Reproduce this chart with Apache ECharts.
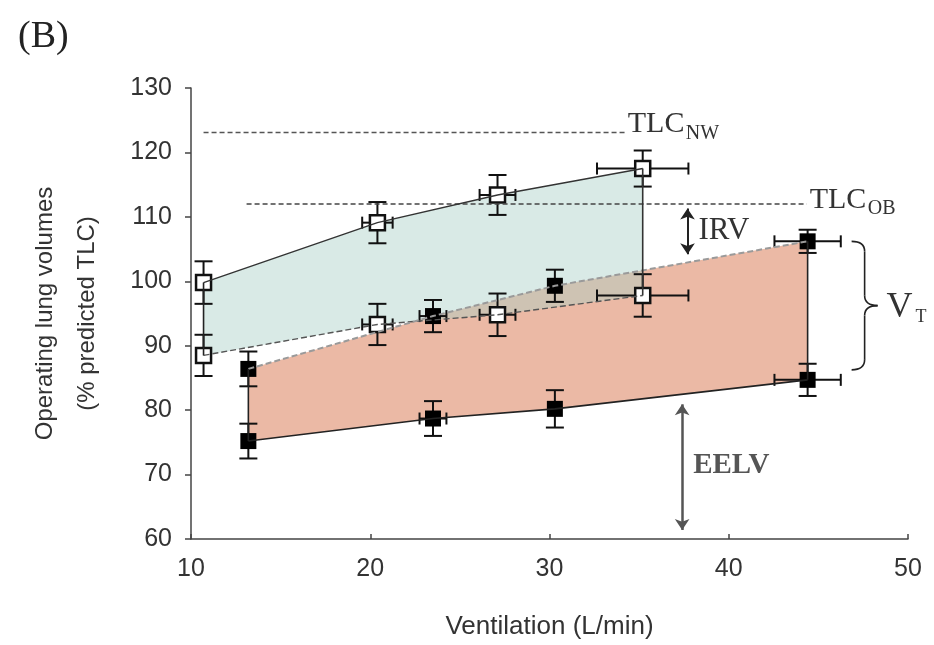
<!DOCTYPE html>
<html>
<head>
<meta charset="utf-8">
<script src="https://cdn.jsdelivr.net/npm/echarts@6/dist/echarts.min.js"></script>
<style>html,body{margin:0;padding:0;background:#fff}#c{width:934px;height:645px}</style>
</head>
<body>
<div id="c"></div>
<script>
// ---- data ----
const nwX = [10.7, 20.4, 27.1, 35.2];
const nwXErr = [0, 0.85, 1.0, 2.55];
const nwTop = [99.8, 109.1, 113.4, 117.5];
const nwTopErr = [3.3, 3.2, 3.1, 2.8];
const nwBottom = [88.5, 93.3, 94.8, 97.8];
const nwBottomErr = [3.2, 3.2, 3.3, 3.3];

const obX = [13.2, 23.5, 30.3, 44.4];
const obXErr = [0, 0.75, 0, 1.85];
const obTop = [86.4, 94.6, 99.3, 106.2];
const obTopErr = [2.7, 2.5, 2.5, 1.8];
const obBottom = [75.2, 78.7, 80.2, 84.7];
const obBottomErr = [2.7, 2.7, 2.9, 2.5];

const tlcNames = ['NW', 'OB'];
const tlcLevel = [123.1, 112.0];
const tlcFrom = [10.7, 13.1];
const tlcTo = [34.2, 44.35];

const irvArrow = [37.7, 111.3, 104.2];   // x, yFrom, yTo
const eelvArrow = [37.4, 80.9, 61.4];

const xAxisRange = [10, 50, 10];
const yAxisRange = [60, 130, 10];

// ---- helpers ----
const pairs = (xs, ys) => xs.map((x, i) => [x, ys[i]]);
const errRows = (xs, ys, xe, ye) => xs.map((x, i) => [x, ys[i], xe[i], ye[i]]);
const poly = (xs, top, bot) => pairs(xs, top).concat(pairs(xs, bot).reverse());

function polygonSeries(points, fill) {
  return {
    type: 'custom', data: points, silent: true, clip: true,
    renderItem: function (params, api) {
      if (params.dataIndex !== 0) return { type: 'group', children: [] };
      return { type: 'polygon', shape: { points: points.map(p => api.coord(p)) }, style: { fill: fill } };
    }
  };
}
function lineSeries(data, color, width, type) {
  return { type: 'line', data: data, symbol: 'none', silent: true,
    lineStyle: { color: color, width: width, type: type || 'solid' } };
}
function errorSeries(rows) {
  return {
    type: 'custom', data: rows, silent: true,
    renderItem: function (params, api) {
      const x = api.value(0), y = api.value(1), xe = api.value(2), ye = api.value(3);
      const hi = api.coord([x, y + ye]), lo = api.coord([x, y - ye]);
      const st = { stroke: '#111', lineWidth: 2 };
      const cw = 9, ch = 6;
      const ch_ = [
        { type: 'line', shape: { x1: hi[0], y1: hi[1], x2: lo[0], y2: lo[1] }, style: st },
        { type: 'line', shape: { x1: hi[0] - cw, y1: hi[1], x2: hi[0] + cw, y2: hi[1] }, style: st },
        { type: 'line', shape: { x1: lo[0] - cw, y1: lo[1], x2: lo[0] + cw, y2: lo[1] }, style: st }
      ];
      if (xe > 0) {
        const l = api.coord([x - xe, y]), r = api.coord([x + xe, y]);
        ch_.push({ type: 'line', shape: { x1: l[0], y1: l[1], x2: r[0], y2: r[1] }, style: st });
        ch_.push({ type: 'line', shape: { x1: l[0], y1: l[1] - ch, x2: l[0], y2: l[1] + ch }, style: st });
        ch_.push({ type: 'line', shape: { x1: r[0], y1: r[1] - ch, x2: r[0], y2: r[1] + ch }, style: st });
      }
      return { type: 'group', children: ch_ };
    }
  };
}
function markerSeries(data, open) {
  return { type: 'scatter', data: data, symbol: 'rect', symbolSize: open ? 15 : 16, silent: true,
    itemStyle: open ? { color: '#fff', borderColor: '#111', borderWidth: 2.5, opacity: 1 } : { color: '#000', opacity: 1 } };
}

const chart = echarts.init(document.getElementById('c'), null, { renderer: 'canvas' });
const sans = 'Liberation Sans, Arial, sans-serif';
const serif = 'Liberation Serif, Times New Roman, serif';

const series = [
  polygonSeries(poly(obX, obTop, obBottom), '#ebb9a5'),
  polygonSeries(poly(nwX, nwTop, nwBottom), 'rgba(169,207,198,0.44)'),
  // TLC dashed reference lines + arrows
  Object.assign(lineSeries([[tlcFrom[0], tlcLevel[0]], [tlcTo[0], tlcLevel[0]]], '#555', 1.4, [5, 3]), {
    markLine: {
      silent: true, symbol: ['arrow', 'arrow'], symbolSize: [11, 11], label: { show: false },
      animation: false,
      data: [
        [{ coord: [irvArrow[0], irvArrow[1]], lineStyle: { color: '#222', width: 2, type: 'solid' } },
         { coord: [irvArrow[0], irvArrow[2]] }],
        [{ coord: [eelvArrow[0], eelvArrow[1]], lineStyle: { color: '#555', width: 2.5, type: 'solid' } },
         { coord: [eelvArrow[0], eelvArrow[2]] }]
      ]
    }
  }),
  lineSeries([[tlcFrom[1], tlcLevel[1]], [tlcTo[1], tlcLevel[1]]], '#444', 1.4, [5, 3]),
  // group lines
  lineSeries(pairs(nwX, nwTop), '#333', 1.4),
  lineSeries(pairs(nwX, nwBottom), '#555', 1.4, [6, 3]),
  lineSeries(pairs(obX, obTop), '#9a9a9a', 2, [6, 3]),
  lineSeries(pairs(obX, obBottom), '#222', 1.6),
  // vertical connectors at first/last points
  lineSeries([[nwX[0], nwBottom[0]], [nwX[0], nwTop[0]]], '#222', 1.6),
  lineSeries([[nwX[3], nwBottom[3]], [nwX[3], nwTop[3]]], '#333', 1.6),
  lineSeries([[obX[0], obBottom[0]], [obX[0], obTop[0]]], '#222', 1.6),
  lineSeries([[obX[3], obBottom[3]], [obX[3], obTop[3]]], '#222', 1.6),
  // error bars
  errorSeries(errRows(nwX, nwTop, nwXErr, nwTopErr)),
  errorSeries(errRows(nwX, nwBottom, nwXErr, nwBottomErr)),
  errorSeries(errRows(obX, obTop, obXErr, obTopErr)),
  errorSeries(errRows(obX, obBottom, obXErr, obBottomErr)),
  // markers
  markerSeries(pairs(obX, obTop), false),
  markerSeries(pairs(obX, obBottom), false),
  markerSeries(pairs(nwX, nwTop), true),
  markerSeries(pairs(nwX, nwBottom), true)
];

const option = {
  animation: false,
  backgroundColor: '#fff',
  title: { text: '(B)', left: 13, top: 13,
    textStyle: { fontFamily: serif, fontSize: 38, fontWeight: 'normal', color: '#222' } },
  grid: { left: 191, right: 26, top: 88, bottom: 101, containLabel: false },
  xAxis: {
    type: 'value', min: xAxisRange[0], max: xAxisRange[1], interval: xAxisRange[2],
    name: 'Ventilation (L/min)', nameLocation: 'middle', nameGap: 75,
    nameTextStyle: { fontFamily: sans, fontSize: 26, color: '#333' },
    axisLine: { show: true, lineStyle: { color: '#444', width: 1.5 } },
    axisTick: { show: true, inside: true, length: 5, lineStyle: { color: '#444', width: 1.5 } },
    axisLabel: { fontFamily: sans, fontSize: 25, color: '#333', margin: 18 },
    splitLine: { show: false }
  },
  yAxis: {
    type: 'value', min: yAxisRange[0], max: yAxisRange[1], interval: yAxisRange[2],
    name: 'Operating lung volumes\n(% predicted TLC)', nameLocation: 'middle', nameGap: 83,
    nameTextStyle: { fontFamily: sans, fontSize: 24, color: '#333', lineHeight: 42 },
    axisLine: { show: true, lineStyle: { color: '#444', width: 1.5 } },
    axisTick: { show: true, inside: false, length: 6, lineStyle: { color: '#444', width: 1.5 } },
    axisLabel: { fontFamily: sans, fontSize: 25, color: '#333', margin: 19 },
    splitLine: { show: false }
  },
  series: series
};
chart.setOption(option);

// ---- annotations anchored to data coordinates ----
const px = p => chart.convertToPixel({ gridIndex: 0 }, p);
const g = [];
function txt(x, y, s, size, opts) {
  g.push({ type: 'text', x: x, y: y, silent: true,
    style: Object.assign({ text: s, fontFamily: serif, fontSize: size, fill: '#333',
      textAlign: 'left', textVerticalAlign: 'middle' }, opts || {}) });
}
tlcNames.forEach((nm, i) => {
  const e = px([tlcTo[i], tlcLevel[i]]);
  const dy = i === 0 ? -8 : -4;
  txt(e[0] + 3, e[1] + dy, 'TLC', 30);
  txt(e[0] + 3 + 58, e[1] + dy + 9, nm, 20);
});
const ia = px([irvArrow[0], (irvArrow[1] + irvArrow[2]) / 2]);
txt(ia[0] + 11, ia[1], 'IRV', 31);
const ea = px([eelvArrow[0], (eelvArrow[1] + eelvArrow[2]) / 2]);
txt(ea[0] + 11, ea[1] - 2, 'EELV', 29, { fontWeight: 'bold', fill: '#555' });
// brace for tidal volume
const bt = px([obX[3], obTop[3]]), bb = px([obX[3], obBottom[3]]);
const x0 = bt[0] + 44, xm = x0 + 13, x1 = x0 + 26;
const y0 = bt[1], y1 = bb[1] - 10, ym = (y0 + y1) / 2, r = 10;
const bs = { stroke: '#222', lineWidth: 1.6, fill: null };
const q = (ax, ay, cx, cy, bx, by) => g.push({ type: 'bezierCurve', silent: true,
  shape: { x1: ax, y1: ay, cpx1: cx, cpy1: cy, x2: bx, y2: by }, style: bs });
const ln = (ax, ay, bx, by) => g.push({ type: 'line', silent: true,
  shape: { x1: ax, y1: ay, x2: bx, y2: by }, style: bs });
q(x0, y0, xm, y0, xm, y0 + r);
ln(xm, y0 + r, xm, ym - r);
q(xm, ym - r, xm, ym, x1, ym);
q(x1, ym, xm, ym, xm, ym + r);
ln(xm, ym + r, xm, y1 - r);
q(xm, y1 - r, xm, y1, x0, y1);
txt(x1 + 9, ym + 2, 'V', 36);
txt(x1 + 38, ym + 12, 'T', 18);
chart.setOption({ graphic: g });
</script>
</body>
</html>
